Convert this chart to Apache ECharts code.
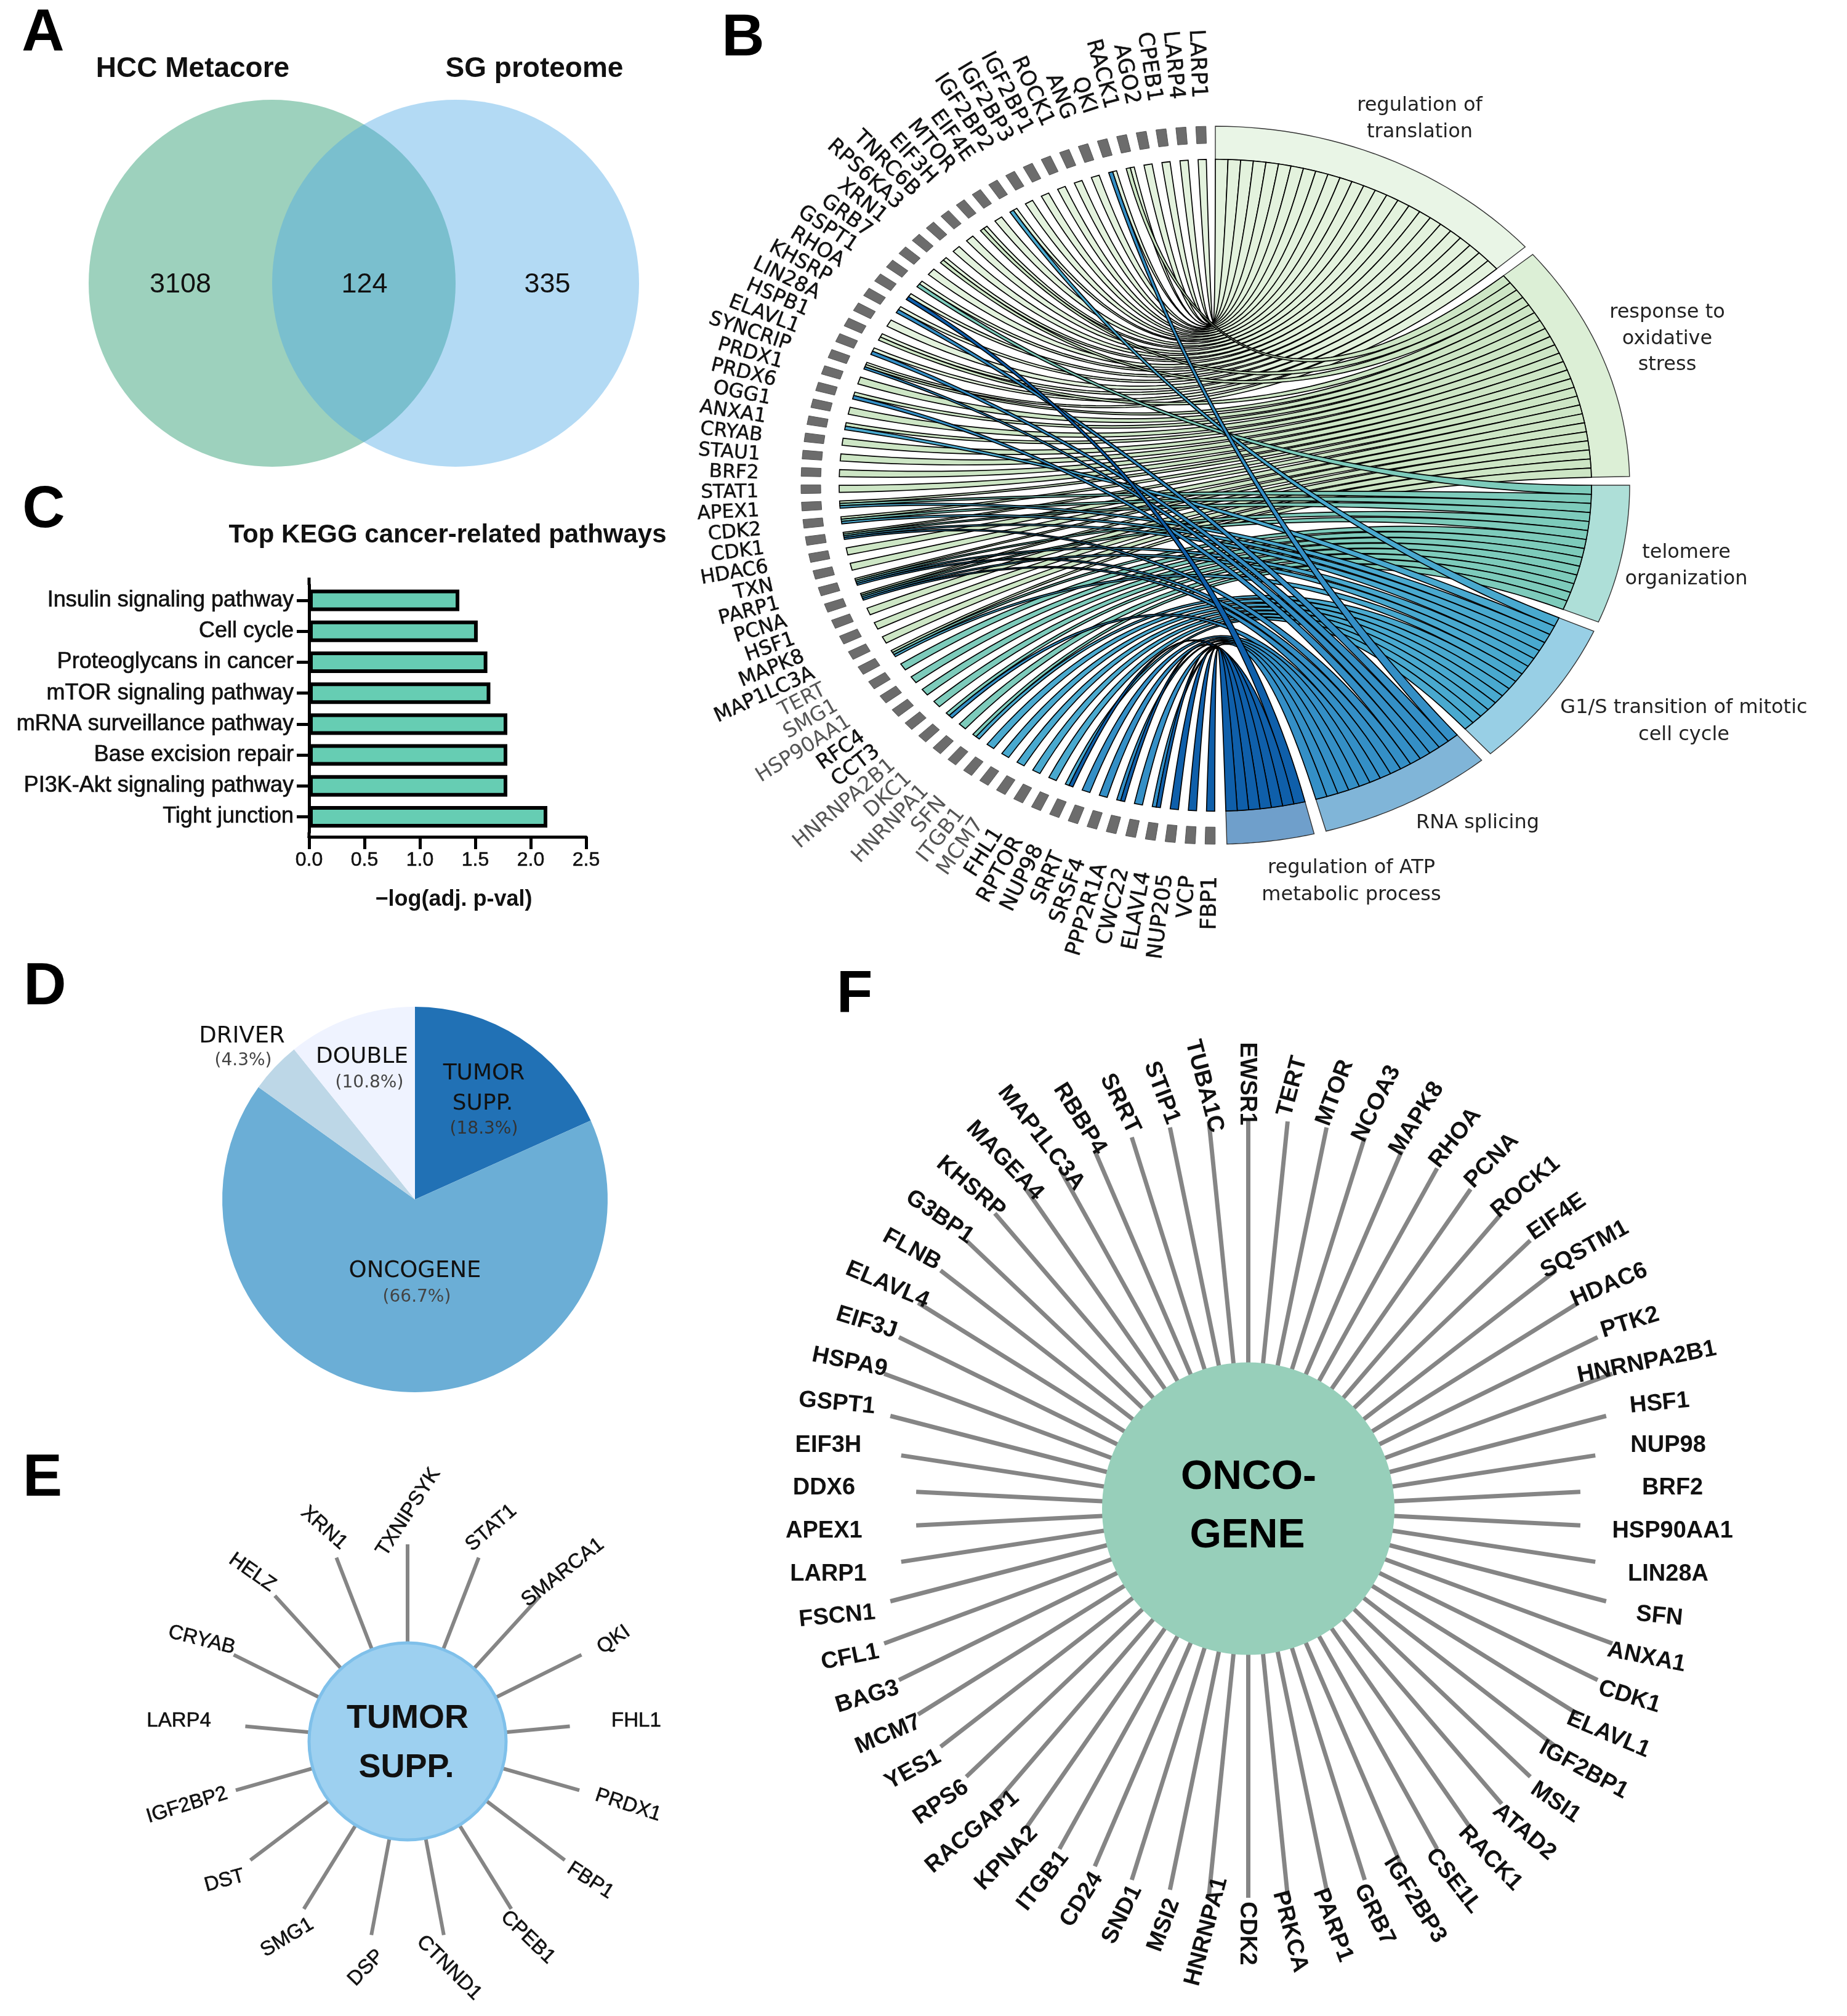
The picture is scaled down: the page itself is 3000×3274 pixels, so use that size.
<!DOCTYPE html>
<html>
<head>
<meta charset="utf-8">
<style>html,body{margin:0;padding:0;background:#fff}#c{width:3000px;height:3274px}</style>
<script src="https://cdn.jsdelivr.net/npm/echarts@6/dist/echarts.min.js"></script>
</head>
<body>
<div id="c"></div>
<script>
// ---------- DATA ----------
const vennSets = ['HCC Metacore', 'SG proteome'];
const vennCounts = [3108, 124, 335];

const keggPathways = ['Insulin signaling pathway', 'Cell cycle', 'Proteoglycans in cancer', 'mTOR signaling pathway',
  'mRNA surveillance pathway', 'Base excision repair', 'PI3K-Akt signaling pathway', 'Tight junction'];
const keggValues = [1.356, 1.522, 1.609, 1.636, 1.789, 1.789, 1.789, 2.15];

const pieNames = ['TUMOR SUPP.', 'ONCOGENE', 'DRIVER', 'DOUBLE'];
const pieValues = [18.3, 66.7, 4.3, 10.8];

const tumorGenes = ['TXNIPSYK', 'STAT1', 'SMARCA1', 'QKI', 'FHL1', 'PRDX1', 'FBP1', 'CPEB1', 'CTNND1', 'DSP', 'SMG1', 'DST',
  'IGF2BP2', 'LARP4', 'CRYAB', 'HELZ', 'XRN1'];

const oncoGenes = ['EWSR1', 'TERT', 'MTOR', 'NCOA3', 'MAPK8', 'RHOA', 'PCNA', 'ROCK1', 'EIF4E', 'SQSTM1', 'HDAC6', 'PTK2',
  'HNRNPA2B1', 'HSF1', 'NUP98', 'BRF2', 'HSP90AA1', 'LIN28A', 'SFN', 'ANXA1', 'CDK1', 'ELAVL1', 'IGF2BP1', 'MSI1', 'ATAD2',
  'RACK1', 'CSE1L', 'IGF2BP3', 'GRB7', 'PARP1', 'PRKCA', 'CDK2', 'HNRNPA1', 'MSI2', 'SND1', 'CD24', 'ITGB1', 'KPNA2',
  'RACGAP1', 'RPS6', 'YES1', 'MCM7', 'BAG3', 'CFL1', 'FSCN1', 'LARP1', 'APEX1', 'DDX6', 'EIF3H', 'GSPT1', 'HSPA9', 'EIF3J',
  'ELAVL4', 'FLNB', 'G3BP1', 'KHSRP', 'MAGEA4', 'MAP1LC3A', 'RBBP4', 'SRRT', 'STIP1', 'TUBA1C'];

const chordGenes = ['LARP1', 'LARP4', 'CPEB1', 'AGO2', 'RACK1', 'QKI', 'ANG', 'ROCK1', 'IGF2BP1', 'IGF2BP3', 'IGF2BP2', 'EIF4E',
  'MTOR', 'EIF3H', 'TNRC6B', 'RPS6KA3', 'XRN1', 'GRB7', 'GSPT1', 'RHOA', 'KHSRP', 'LIN28A', 'HSPB1', 'ELAVL1', 'SYNCRIP',
  'PRDX1', 'PRDX6', 'OGG1', 'ANXA1', 'CRYAB', 'STAU1', 'BRF2', 'STAT1', 'APEX1', 'CDK2', 'CDK1', 'HDAC6', 'TXN', 'PARP1',
  'PCNA', 'HSF1', 'MAPK8', 'MAP1LC3A', 'TERT', 'SMG1', 'HSP90AA1', 'RFC4', 'CCT3', 'HNRNPA2B1', 'DKC1', 'HNRNPA1', 'SFN',
  'ITGB1', 'MCM7', 'FHL1', 'RPTOR', 'NUP98', 'SRRT', 'SRSF4', 'PPP2R1A', 'CWC22', 'ELAVL4', 'NUP205', 'VCP', 'FBP1'];

const translationGenes = ['LARP1', 'LARP4', 'CPEB1', 'AGO2', 'RACK1', 'QKI', 'ANG', 'ROCK1', 'IGF2BP1', 'IGF2BP3', 'IGF2BP2', 'EIF4E',
  'MTOR', 'EIF3H', 'TNRC6B', 'RPS6KA3', 'XRN1', 'GRB7', 'GSPT1', 'RHOA', 'KHSRP', 'LIN28A', 'HSPB1', 'ELAVL1', 'SYNCRIP'];
const oxidativeGenes = ['RACK1', 'EIF3H', 'XRN1', 'HSPB1', 'SYNCRIP', 'PRDX1', 'PRDX6', 'OGG1', 'ANXA1', 'CRYAB', 'STAU1', 'BRF2',
  'STAT1', 'APEX1', 'CDK2', 'CDK1', 'HDAC6', 'TXN', 'PARP1', 'PCNA', 'HSF1', 'MAPK8', 'MAP1LC3A', 'TERT'];
const telomereGenes = ['GSPT1', 'APEX1', 'CDK2', 'CDK1', 'PARP1', 'PCNA', 'TERT', 'SMG1', 'HSP90AA1', 'RFC4', 'CCT3', 'HNRNPA2B1',
  'DKC1', 'HNRNPA1'];
const g1sGenes = ['EIF4E', 'ANXA1', 'APEX1', 'CDK2', 'CDK1', 'PARP1', 'PCNA', 'TERT', 'HNRNPA1', 'SFN', 'ITGB1', 'MCM7', 'FHL1',
  'RPTOR', 'NUP98'];
const splicingGenes = ['QKI', 'KHSRP', 'ELAVL1', 'SYNCRIP', 'PRDX6', 'CDK1', 'PARP1', 'PCNA', 'HNRNPA2B1', 'SRRT', 'SRSF4',
  'PPP2R1A', 'CWC22', 'ELAVL4'];
const atpGenes = ['RHOA', 'NUP98', 'PPP2R1A', 'ELAVL4', 'NUP205', 'VCP', 'FBP1'];
const termGeneLists = [translationGenes, oxidativeGenes, telomereGenes, g1sGenes, splicingGenes, atpGenes];

// ---------- LAYOUT ----------
const W = 3000, H = 3274;
const SANS = '"Liberation Sans",Arial,sans-serif', VERD = '"DejaVu Sans",Verdana,sans-serif';
const rad = d => d * Math.PI / 180;
const PANEL = [['A', 70, 51], ['B', 1207, 59], ['C', 71, 825], ['D', 73, 1600], ['E', 69, 2398], ['F', 1388, 1612]];

const CH = { cx: 1974, cy: 788, rx: 673, ry: 583, band: 611 / 673, tick: 641 / 673, geneStart: 2, geneStep: 2.77,
  geneW: 1.25, tickW: 1.4, lrx: 742, lry: 632, lcy: 791 };
const termSpan = [[0, 48.4], [50, 88.6], [90, 112.4], [114, 138.4], [140, 164.5], [166.2, 178.4]];
const termBand = ['#e9f5e6', '#dceFd6', '#aedfd8', '#98cfe5', '#80b5d8', '#6f9fcb'];
const termRib = ['#e3f2dd', '#cde6c5', '#7dcbbb', '#49a9cf', '#348fc6', '#0f5faa'];
const termLabels = [
  ['regulation of', 2306, 170], ['translation', 2306, 213],
  ['response to', 2708, 506], ['oxidative', 2708, 549], ['stress', 2708, 591],
  ['telomere', 2739, 896], ['organization', 2739, 939],
  ['G1/S transition of mitotic', 2735, 1148], ['cell cycle', 2735, 1192],
  ['RNA splicing', 2400, 1335],
  ['regulation of ATP', 2195, 1408], ['metabolic process', 2195, 1452]];
const pale = new Set(['TERT', 'SMG1', 'HSP90AA1', 'HNRNPA2B1', 'DKC1', 'HNRNPA1', 'SFN', 'ITGB1', 'MCM7']);

const pt = (deg, k) => [CH.cx + k * CH.rx * Math.sin(rad(deg)), CH.cy - k * CH.ry * Math.cos(rad(deg))];
const arc = (a, b, k, n) => { const o = []; for (let i = 0; i <= n; i++) o.push(pt(a + (b - a) * i / n, k)); return o; };
const bez = (p, q, n) => { const o = [], c = [CH.cx, CH.cy];
  for (let i = 0; i <= n; i++) { const t = i / n, u = 1 - t;
    o.push([u * u * p[0] + 2 * u * t * c[0] + t * t * q[0], u * u * p[1] + 2 * u * t * c[1] + t * t * q[1]]); }
  return o; };

// build ribbons from the membership lists
const geneTerms = chordGenes.map(g => termGeneLists.map((l, i) => l.includes(g) ? i : -1).filter(i => i >= 0));
const ribbons = [];
termGeneLists.forEach((list, t) => {
  const sorted = list.slice().sort((a, b) => chordGenes.indexOf(a) - chordGenes.indexOf(b));
  const [a0, a1] = termSpan[t], w = (a1 - a0) / sorted.length;
  sorted.forEach((g, j) => {
    const gi = chordGenes.indexOf(g), ts = geneTerms[gi], pos = ts.indexOf(t);
    const c = CH.geneStart + gi * CH.geneStep, gw = CH.geneW / ts.length;
    const g0 = c - CH.geneW / 2 + pos * gw, g1 = g0 + gw;
    const t0 = a0 + j * w, t1 = t0 + w;
    const pts = [].concat(
      bez(pt(-g0, CH.band), pt(t0, CH.band), 44),
      arc(t0, t1, CH.band, 3),
      bez(pt(t1, CH.band), pt(-g1, CH.band), 44));
    ribbons.push({ pts, fill: termRib[t] });
  });
});

// text helpers
const T = (text, x, y, size, o) => Object.assign({ text, x, y, size, weight: 'normal', fam: SANS, col: '#111', align: 'center', tilt: 0 }, o || {});

function layer(items, draw, z) {
  return { type: 'custom', coordinateSystem: 'cartesian2d', xAxisIndex: 0, yAxisIndex: 0, silent: true, animation: false,
    clip: false, z: z || 2, encode: { x: 0, y: 1 }, data: items.map((_, i) => [i, 0]),
    renderItem: (p, api) => draw(items[p.dataIndex], api) };
}
const textLayer = items => layer(items, (d, api) => {
  const t = rad(d.tilt);
  // nudge so the visual middle of capitals sits on the anchor
  const c = api.coord([d.x - d.size * 0.05 * Math.sin(t), d.y + d.size * 0.05 * Math.cos(t)]);
  return { type: 'text', x: c[0], y: c[1], rotation: -t,
    style: { text: d.text, fill: d.col, fontSize: d.size, fontWeight: d.weight, fontFamily: d.fam,
      align: d.align, verticalAlign: 'middle', stroke: d.stroke || null, lineWidth: d.stroke ? d.sw : 0 } };
}, 10);
const polyLayer = items => layer(items, (d, api) => ({ type: 'polygon',
  shape: { points: d.pts.map(p => api.coord(p)) },
  style: { fill: d.fill, stroke: d.stroke || '#000', lineWidth: d.lw == null ? 1.7 : d.lw } }));
const circLayer = items => layer(items, (d, api) => { const c = api.coord([d.x, d.y]);
  return { type: 'circle', shape: { cx: c[0], cy: c[1], r: d.r },
    style: { fill: d.fill, opacity: d.opacity == null ? 1 : d.opacity, stroke: d.stroke || null, lineWidth: d.lw || 0 } }; });
const lineLayer = items => layer(items, (d, api) => { const a = api.coord(d.a), b = api.coord(d.b);
  return { type: 'line', shape: { x1: a[0], y1: a[1], x2: b[0], y2: b[1] },
    style: { stroke: d.col, lineWidth: d.lw } }; });

// panel A
const venn = { l: [442, 460], r: [740, 460], R: 298 };
const vennCircles = [
  { x: venn.l[0], y: venn.l[1], r: venn.R, fill: '#9dd1bd' },
  { x: venn.r[0], y: venn.r[1], r: venn.R, fill: '#4aa7e5', opacity: 0.42 }];
const vennText = [
  T(vennSets[0], 313, 110, 46, { weight: 'bold' }), T(vennSets[1], 868, 110, 46, { weight: 'bold' }),
  T(String(vennCounts[0]), 293, 460, 45), T(String(vennCounts[1]), 592, 460, 45), T(String(vennCounts[2]), 889, 460, 45)];

// panel B
const bandPolys = termSpan.map((s, i) => ({ pts: arc(s[0], s[1], 1, 30).concat(arc(s[1], s[0], CH.band, 30)),
  fill: termBand[i], stroke: '#333', lw: 1.4 }));
const tickPolys = chordGenes.map((g, i) => { const c = -(CH.geneStart + i * CH.geneStep), w = CH.tickW / 2;
  return { pts: [pt(c - w, 1), pt(c + w, 1), pt(c + w, CH.tick), pt(c - w, CH.tick)], fill: '#6c6c6c', stroke: '#555', lw: 1 }; });
const chordGeneText = chordGenes.map((g, i) => { const th = rad(CH.geneStart + i * CH.geneStep);
  const vx = CH.lrx * Math.sin(th), vy = CH.lry * Math.cos(th);
  const tilt = Math.atan2(vy, vx) * 180 / Math.PI;
  // the panel is stretched vertically, so upright names run longer than level ones
  const size = 31 + 4 * Math.abs(Math.sin(rad(tilt)));
  return T(g, CH.cx - vx, CH.lcy - vy, size, { fam: VERD, align: 'right', tilt, col: pale.has(g) ? '#555' : '#111',
    stroke: pale.has(g) ? null : '#111', sw: 0.5 }); });
const chordTermText = termLabels.map(l => T(l[0], l[1], l[2], 32, { fam: VERD, col: '#222' }));

// panel C
const barLayout = { left: 502, top: 950, width: 450, height: 401.6, axisTop: 938, axisBottom: 1359 };
const barExtras = [{ a: [barLayout.left, barLayout.axisTop], b: [barLayout.left, barLayout.top], col: '#000', lw: 5 },
  { a: [barLayout.left, barLayout.top + barLayout.height], b: [barLayout.left, barLayout.axisBottom + 2], col: '#000', lw: 5 }];
const barText = [T('Top KEGG cancer-related pathways', 727, 867, 42, { weight: 'bold' })];

// panel D
const pieColors = ['#2171b5', '#6baed6', '#bdd7e7', '#eff3ff'];
const pieText = [
  T('DRIVER', 393, 1682, 37, { fam: VERD }), T('(' + pieValues[2] + '%)', 395, 1721, 28, { fam: VERD, col: '#444' }),
  T('DOUBLE', 588, 1715, 36, { fam: VERD }), T('(' + pieValues[3] + '%)', 600, 1757, 28, { fam: VERD, col: '#444' }),
  T('TUMOR', 786, 1742, 36, { fam: VERD }), T('SUPP.', 784, 1791, 36, { fam: VERD }), T('(' + pieValues[0] + '%)', 786, 1832, 28, { fam: VERD, col: '#333' }),
  T('ONCOGENE', 674, 2063, 37, { fam: VERD }), T('(' + pieValues[1] + '%)', 677, 2105, 28, { fam: VERD, col: '#444' })];

// panels E and F
const hubE = { x: 662, y: 2828, r: 160 }, hubF = { x: 2027.5, y: 2450, r: 237.5 };
const tiltE = [-57, -41, -38, -35, 0, 18, 33, 44, 45, -46, -31, -15, -17, 0, 14, 35, 42];
const off = a => Math.abs(90 - Math.abs(((a + 180) % 360) - 180));
const spokes = (genes, hub, fn, lw) => genes.map((g, i) => { const a = i * 360 / genes.length, L = fn(off(a));
  return { a: [hub.x, hub.y], b: [hub.x + L * Math.sin(rad(a)), hub.y - L * Math.cos(rad(a))], col: '#858585', lw }; });
const spokesE = spokes(tumorGenes, hubE, o => Math.min(320, 252 + 2.4 * o), 6);
const spokesF = spokes(oncoGenes, hubF, o => Math.min(632, 525 + 5.2 * o), 7);
const textE = tumorGenes.map((g, i) => { const a = rad(i * 360 / tumorGenes.length);
  return T(g, hubE.x + 373 * Math.sin(a), hubE.y - 373 * Math.cos(a), 33, { tilt: tiltE[i], stroke: '#111', sw: 0.6 }); });
const textF = oncoGenes.map((g, i) => { const d = i * 360 / oncoGenes.length, a = rad(d), o = off(d);
  const m = Math.max(0, o - 9);
  const pole = o > 89.9;
  const sx = Math.sin(a) >= 0 ? 1 : -1, sy = Math.cos(a) >= 0 ? -1 : 1;
  return T(g, hubF.x + 690 * Math.sin(a), hubF.y - 690 * Math.cos(a), 38, { weight: 'bold', tilt: pole ? 90 : sx * sy * m }); });
const hubText = [
  T('TUMOR', 662, 2788, 54, { weight: 'bold' }), T('SUPP.', 660, 2868, 54, { weight: 'bold' }),
  T('ONCO-', 2028, 2396, 66, { weight: 'bold', col: '#000' }), T('GENE', 2026, 2491, 66, { weight: 'bold', col: '#000' })];
const panelText = PANEL.map(p => T(p[0], p[1], p[2], 96, { weight: 'bold', col: '#000' }));

// ---------- CHART ----------
const chart = echarts.init(document.getElementById('c'), null, { renderer: 'canvas', width: W, height: H });
const hiddenAxis = { show: false, type: 'value', min: 0 };
chart.setOption({
  animation: false,
  backgroundColor: '#fff',
  grid: [
    { left: 0, top: 0, width: W, height: H },
    { left: barLayout.left, top: barLayout.top, width: barLayout.width, height: barLayout.height }
  ],
  xAxis: [
    Object.assign({}, hiddenAxis, { gridIndex: 0, max: W }),
    { gridIndex: 1, type: 'value', min: 0, max: 2.5, interval: 0.5, offset: barLayout.axisBottom - barLayout.top - barLayout.height,
      splitLine: { show: false },
      axisLine: { show: true, lineStyle: { color: '#000', width: 5 } },
      axisTick: { show: true, length: 20, lineStyle: { color: '#000', width: 5 } },
      axisLabel: { fontFamily: SANS, fontSize: 32, color: '#111', margin: 22, textBorderColor: '#111', textBorderWidth: 0.6,
        formatter: v => v.toFixed(1) },
      name: '\u2212log(adj. p-val)', nameLocation: 'center', nameGap: 84,
      nameTextStyle: { fontFamily: SANS, fontSize: 36, fontWeight: 'bold', color: '#111', padding: [0, 0, 0, 20] } }
  ],
  yAxis: [
    Object.assign({}, hiddenAxis, { gridIndex: 0, max: H, inverse: true }),
    { gridIndex: 1, type: 'category', inverse: true, data: keggPathways,
      axisLine: { show: true, lineStyle: { color: '#000', width: 5 } },
      axisTick: { show: true, length: 20, alignWithLabel: true, lineStyle: { color: '#000', width: 5 } },
      axisLabel: { fontFamily: SANS, fontSize: 36, color: '#111', margin: 25, textBorderColor: '#111', textBorderWidth: 0.7 } }
  ],
  series: [
    circLayer(vennCircles), textLayer(vennText),
    polyLayer(bandPolys), polyLayer(ribbons), polyLayer(tickPolys), textLayer(chordGeneText), textLayer(chordTermText),
    { type: 'bar', xAxisIndex: 1, yAxisIndex: 1, data: keggValues, barWidth: 35, silent: true,
      itemStyle: { color: '#66cdb3', borderColor: '#000', borderWidth: 6 } },
    lineLayer(barExtras), textLayer(barText),
    { type: 'pie', center: [674, 1948], radius: 313, startAngle: 90, clockwise: true, silent: true, label: { show: false }, labelLine: { show: false },
      data: pieNames.map((n, i) => ({ name: n, value: pieValues[i], itemStyle: { color: pieColors[i] } })) },
    textLayer(pieText),
    lineLayer(spokesE),
    circLayer([{ x: hubE.x, y: hubE.y, r: hubE.r, fill: '#9dd0f0', stroke: '#7fc0ea', lw: 5 }]),
    textLayer(textE),
    lineLayer(spokesF),
    circLayer([{ x: hubF.x, y: hubF.y, r: hubF.r, fill: '#97cfba' }]),
    textLayer(textF),
    textLayer(hubText), textLayer(panelText)
  ]
});
</script>
</body>
</html>
